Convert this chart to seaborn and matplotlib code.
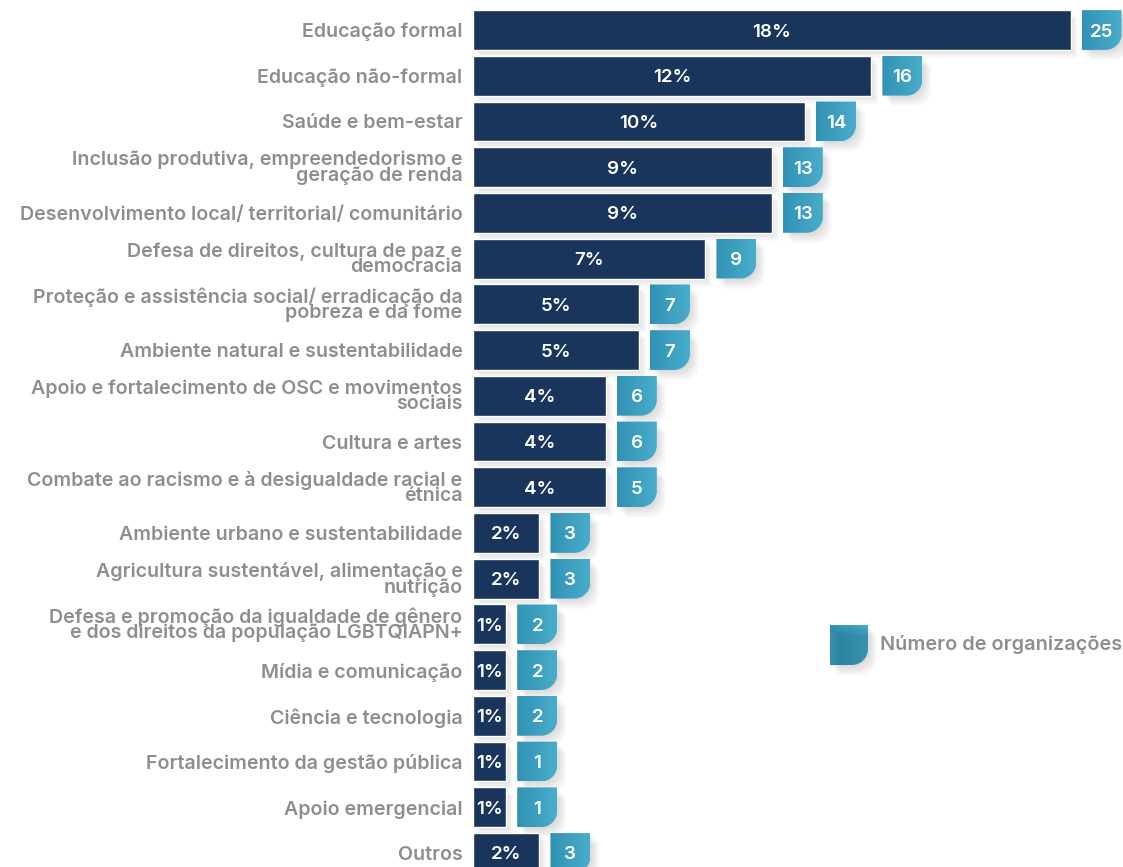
import numpy as np
import pandas as pd
import matplotlib
matplotlib.use("Agg")
import matplotlib.pyplot as plt
from matplotlib.path import Path
from matplotlib.patches import PathPatch
from matplotlib.colors import LinearSegmentedColormap
import seaborn as sns

categories = [
    "Educação formal",
    "Educação não-formal",
    "Saúde e bem-estar",
    "Inclusão produtiva, empreendedorismo e\ngeração de renda",
    "Desenvolvimento local/ territorial/ comunitário",
    "Defesa de direitos, cultura de paz e\ndemocracia",
    "Proteção e assistência social/ erradicação da\npobreza e da fome",
    "Ambiente natural e sustentabilidade",
    "Apoio e fortalecimento de OSC e movimentos\nsociais",
    "Cultura e artes",
    "Combate ao racismo e à desigualdade racial e\nétnica",
    "Ambiente urbano e sustentabilidade",
    "Agricultura sustentável, alimentação e\nnutrição",
    "Defesa e promoção da igualdade de gênero\ne dos direitos da população LGBTQIAPN+",
    "Mídia e comunicação",
    "Ciência e tecnologia",
    "Fortalecimento da gestão pública",
    "Apoio emergencial",
    "Outros",
]
percents = [18, 12, 10, 9, 9, 7, 5, 5, 4, 4, 4, 2, 2, 1, 1, 1, 1, 1, 2]
counts = [25, 16, 14, 13, 13, 9, 7, 7, 6, 6, 5, 3, 3, 2, 2, 2, 1, 1, 3]
legend_label = "Número de organizações"

BAR = "#1a355c"
TEAL_D = "#3292b4"
TEAL_L = "#48adca"
GRAY = "#8e8e8e"
FONT = ["Inter", "DejaVu Sans"]

sns.set_theme(style="white")
plt.rcParams["font.family"] = FONT

W, H = 1123, 867
fig = plt.figure(figsize=(W / 100, H / 100), dpi=100)
fig.patch.set_facecolor("white")

ax_left = 473
ppx = 33.2          # pixels per percent unit
row = 45.72         # pixels per row
ax = fig.add_axes([ax_left / W, 0, (W - ax_left) / W, 1])
ax.set_facecolor("none")

df = pd.DataFrame({"cat": categories, "pct": percents, "n": counts})
n = len(df)

bar_h = 0.87
for i, v in enumerate(percents):
    for k in range(1, 7):
        dx = k * 1.2 / ppx
        dy = k * 1.4 / row
        ax.add_patch(plt.Rectangle((dx, i - bar_h / 2 + dy), v, bar_h,
                                   facecolor="black", alpha=0.018, lw=0, zorder=1))

sns.barplot(data=df, x="pct", y="cat", orient="h", color=BAR, width=bar_h,
            saturation=1, ax=ax, zorder=3)

for s in ax.spines.values():
    s.set_visible(False)
ax.set_xticks([])
ax.set_xlabel("")
ax.set_ylabel("")
ax.tick_params(axis="y", length=0, pad=7.5)
ax.set_yticks(range(n))
ax.set_yticklabels(categories, fontsize=14.1, color=GRAY, fontweight="semibold",
                   linespacing=0.8, family=FONT)

for i, v in enumerate(percents):
    ax.text(v / 2, i, f"{v}%", ha="center", va="center_baseline", color="white",
            fontsize=13.5, fontweight="semibold", zorder=6)

def badge_path(x0, w, yc, h, rx, ry):
    yt, yb = yc - h / 2, yc + h / 2
    x1 = x0 + w
    k = 0.5523
    verts = [(x0, yt), (x1, yt), (x1, yb - ry),
             (x1, yb - ry + k * ry), (x1 - rx + k * rx, yb), (x1 - rx, yb),
             (x0, yb), (x0, yt)]
    codes = [Path.MOVETO, Path.LINETO, Path.LINETO,
             Path.CURVE4, Path.CURVE4, Path.CURVE4,
             Path.LINETO, Path.CLOSEPOLY]
    return Path(verts, codes)

grad = np.linspace(0, 1, 64).reshape(1, -1)
cmap = LinearSegmentedColormap.from_list("teal", [TEAL_D, TEAL_L])

bw = 40 / ppx
gap = 11 / ppx
rx, ry = 16 / ppx, 16 / row
for i, (v, c) in enumerate(zip(percents, counts)):
    x0 = v + gap
    for k in range(1, 8):
        sp = badge_path(x0 + k * 1.3 / ppx, bw, i + k * 1.5 / row, bar_h, rx, ry)
        ax.add_patch(PathPatch(sp, facecolor="black", alpha=0.02, lw=0, zorder=2))
    p = badge_path(x0, bw, i, bar_h, rx, ry)
    patch = PathPatch(p, facecolor="none", lw=0, zorder=4)
    ax.add_patch(patch)
    im = ax.imshow(grad, cmap=cmap, aspect="auto",
                   extent=(x0, x0 + bw, i + bar_h / 2, i - bar_h / 2),
                   zorder=4, interpolation="bilinear")
    im.set_clip_path(patch)
    ax.text(x0 + bw / 2, i, str(c), ha="center", va="center_baseline", color="white",
            fontsize=13.5, fontweight="semibold", zorder=6)

ax.set_xlim(0, (W - ax_left) / ppx)
ax.set_ylim(n - 1 + (H - 853) / row, -30 / row)

# legend overlay in pixel coordinates
lg = fig.add_axes([0, 0, 1, 1])
lg.set_xlim(0, W)
lg.set_ylim(H, 0)
lg.axis("off")
lg.set_facecolor("none")
lx, ly, lw_, lh = 830, 625, 38, 40
for k in range(1, 8):
    sp = badge_path(lx + k * 1.3, lw_, ly + lh / 2 + k * 1.5, lh, 16, 16)
    lg.add_patch(PathPatch(sp, facecolor="black", alpha=0.02, lw=0))
lp = PathPatch(badge_path(lx, lw_, ly + lh / 2, lh, 16, 16), facecolor="none", lw=0)
lg.add_patch(lp)
im = lg.imshow(grad, cmap=cmap, aspect="auto", extent=(lx, lx + lw_, ly + lh, ly),
               interpolation="bilinear")
im.set_clip_path(lp)
lg.set_xlim(0, W)
lg.set_ylim(H, 0)
lg.text(880, 643, legend_label, ha="left", va="center_baseline", color=GRAY,
        fontsize=14.3, fontweight="semibold")

fig.savefig("out.png", dpi=100, facecolor="white")
